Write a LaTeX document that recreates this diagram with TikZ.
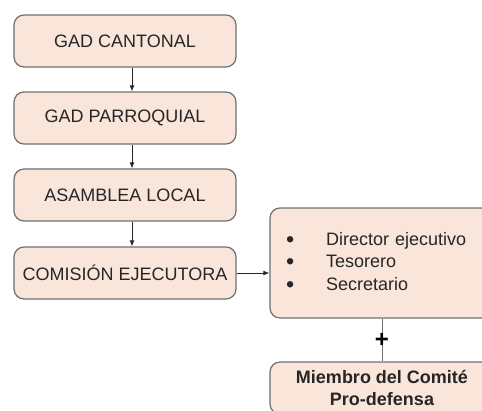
\documentclass[tikz,border=0pt]{standalone}
\usepackage{fontspec}
\setmainfont{Liberation Sans}
\usepackage{xcolor}
\definecolor{Col1}{RGB}{112,112,112}
\definecolor{Col2}{RGB}{250,229,219}
\definecolor{Col3}{RGB}{38,38,38}
\usetikzlibrary{arrows.meta}
\tikzstyle{Box}=[draw=Col1,fill=Col2,rounded corners=10pt,line width=1.2pt,
minimum width=222pt,minimum height=52pt,inner sep=0pt,text=Col3,
font=\fontsize{18}{22}\selectfont]
\tikzstyle{Edge}=[draw=Col3,line width=0.9pt,-{Latex[length=6pt,width=5pt]}]
\tikzstyle{Link}=[draw=Col1,line width=1pt]
\newcommand{\Dot}{\raisebox{-2pt}{\scalebox{1.3}{\textbullet}}}

\begin{document}
\begin{tikzpicture}[x=1pt,y=-1pt]
            \useasboundingbox(0,0)rectangle(482,410);
            \clip(0,0)rectangle(482,410);
            \node[Box](cantonal)at(125,41){GAD CANTONAL};
            \node[Box](parroquial)at(125,118){GAD PARROQUIAL};
            \node[Box](asamblea)at(125,195){ASAMBLEA LOCAL};
            \node[Box](comision)at(125,273){COMISIÓN EJECUTORA};
            \node[Box,minimum width=224pt,minimum height=110pt,text width=200pt,
                align=left,font=\fontsize{18}{22.5}\selectfont](cargos)at(382,263)
                {\begin{tabular}{@{\hspace{4pt}}l@{\hspace{32pt}}l@{}}
                \Dot&Director ejecutivo\\
                \Dot&Tesorero\\
                \Dot&Secretario
                \end{tabular}};
            \node[Box,minimum width=224pt,align=center,
                font=\bfseries\fontsize{18}{22}\selectfont](miembro)at(382,388)
                {Miembro del Comité\\Pro-defensa};
            \draw[Edge]([xshift=7pt]cantonal.south)--([xshift=7pt]parroquial.north);
            \draw[Edge]([xshift=7pt]parroquial.south)--([xshift=7pt]asamblea.north);
            \draw[Edge]([xshift=7pt]asamblea.south)--([xshift=7pt]comision.north);
            \draw[Edge](comision.east)--(comision.east-|cargos.west);
            \draw[Link](cargos)--node[text=black,
                font=\bfseries\fontsize{24}{24}\selectfont]{+}(miembro);
        \end{tikzpicture}
\end{document}
